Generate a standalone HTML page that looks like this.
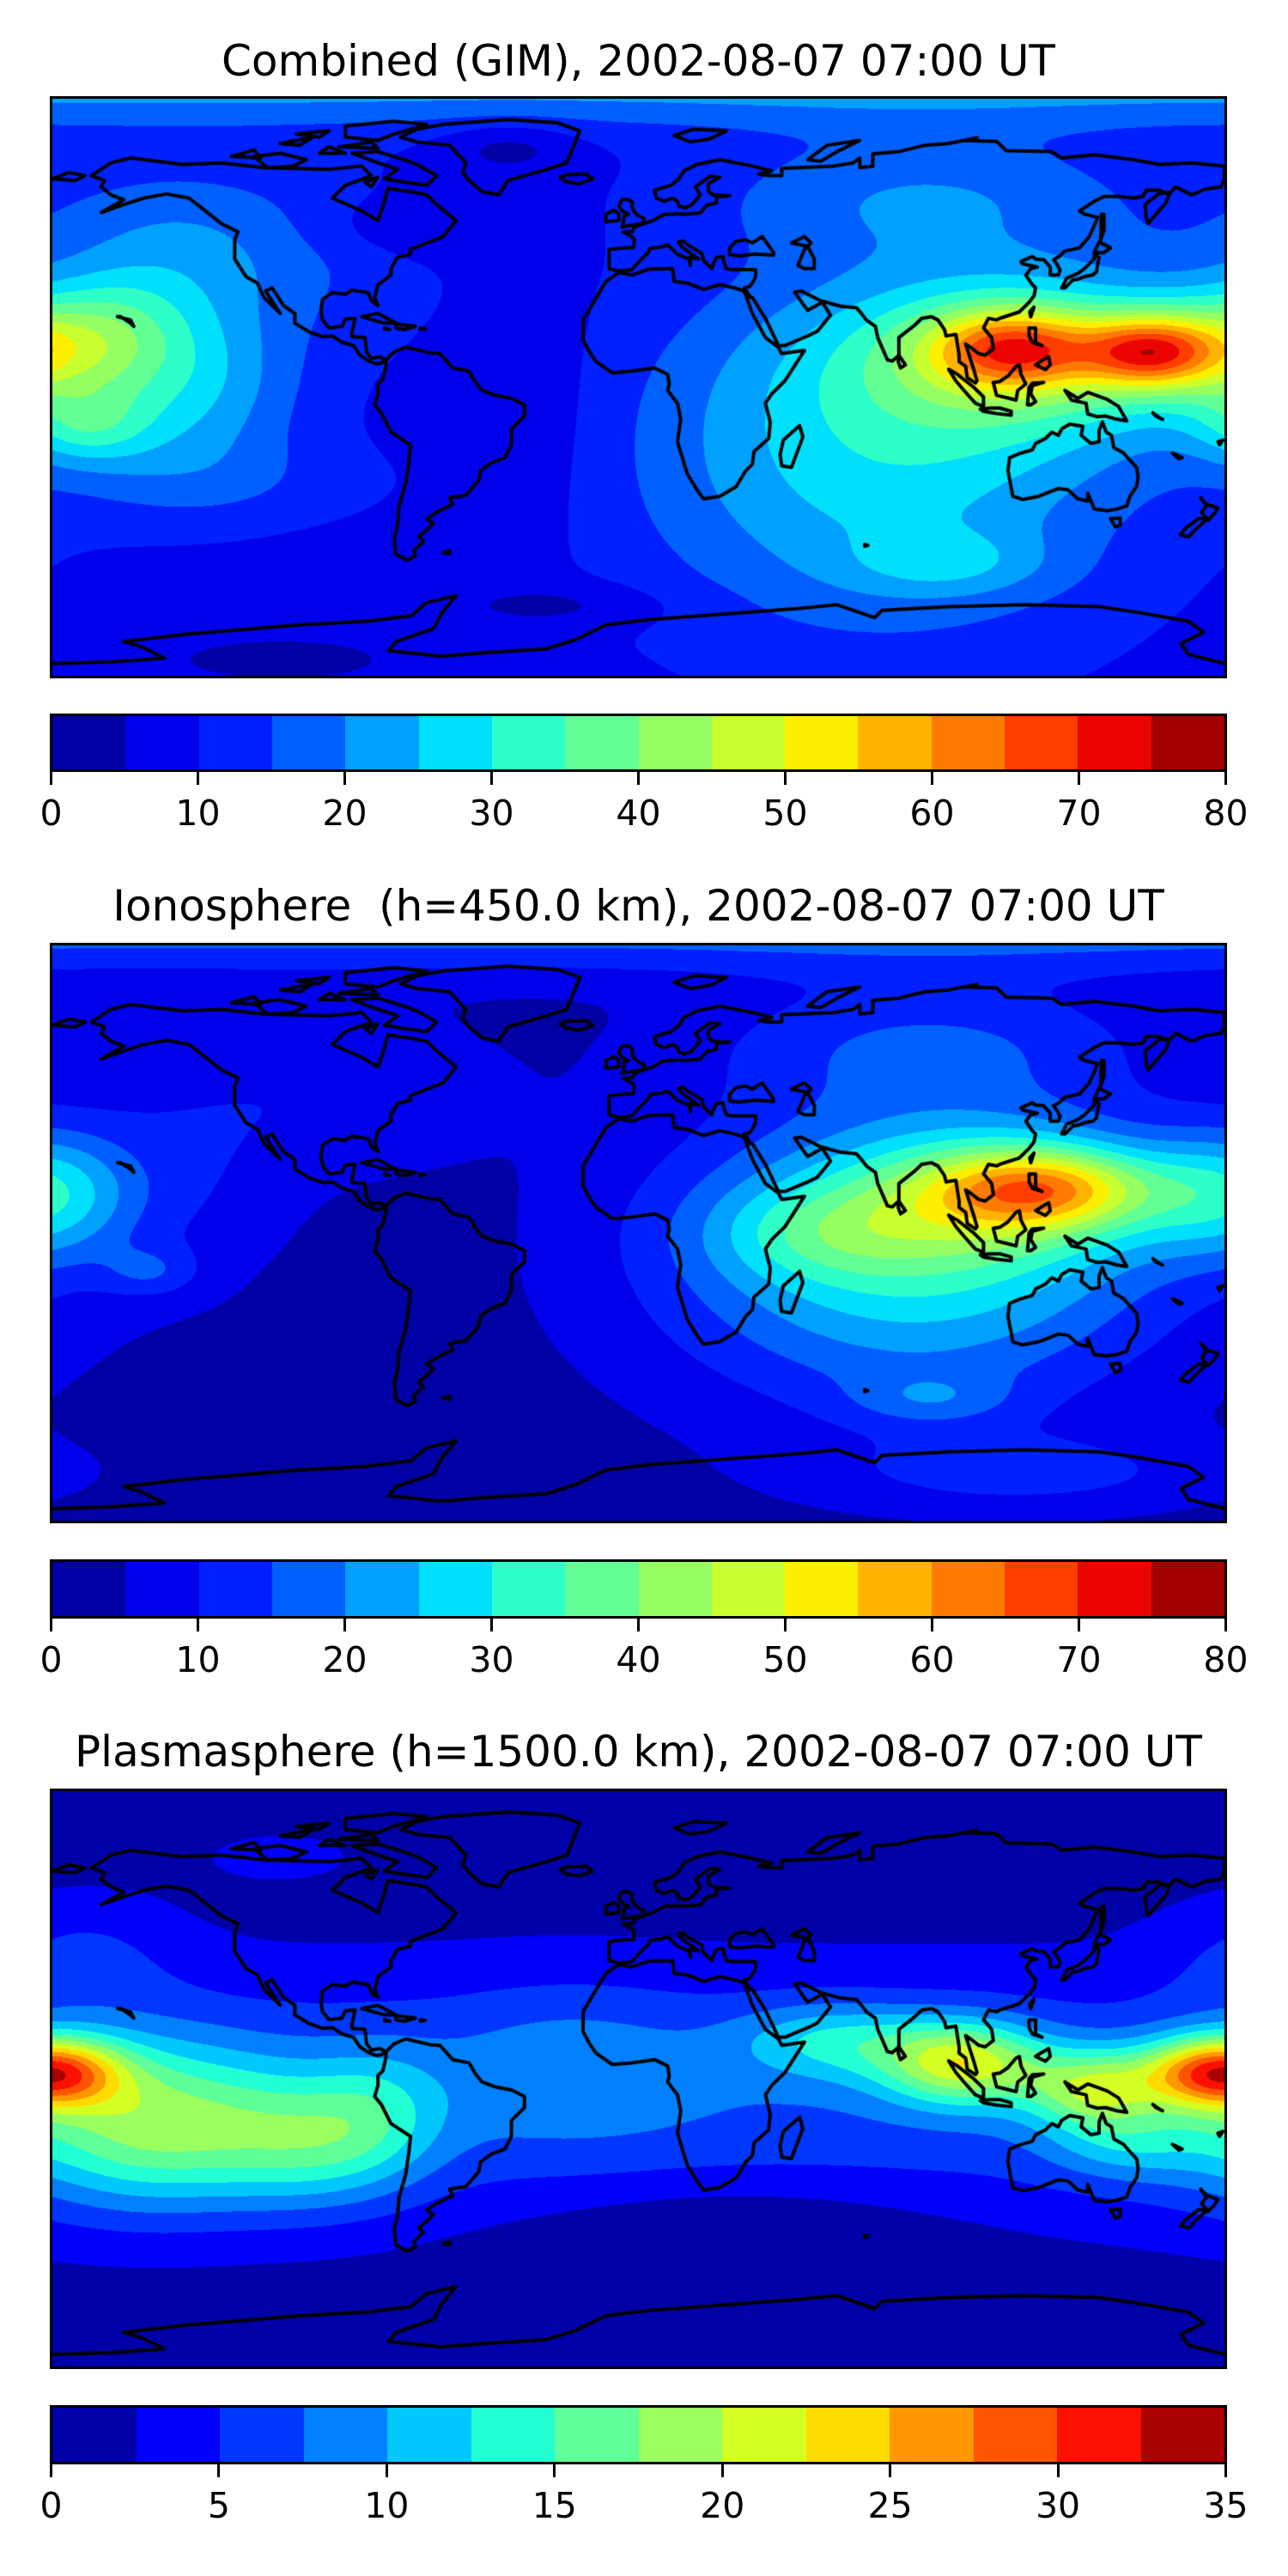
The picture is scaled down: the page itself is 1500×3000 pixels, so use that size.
<!DOCTYPE html>
<html><head><meta charset="utf-8">
<style>
body{margin:0;background:#fff;}
#root{position:relative;width:1500px;height:3000px;background:#fff;overflow:hidden;font-family:"DejaVu Sans","Liberation Sans",sans-serif;color:#000;}
.title{position:absolute;left:0;width:1487px;text-align:center;font-size:50px;line-height:54px;white-space:pre;}
.map{position:absolute;left:58px;width:1371px;border:3px solid #000;box-sizing:border-box;background:#0020ff;}
.map canvas{position:absolute;left:0;top:0;width:100%;height:100%;display:block;}
.cbar{position:absolute;left:58px;width:1371px;border:3px solid #000;box-sizing:border-box;display:flex;}
.cbar div{flex:1;height:100%;}
.tick{position:absolute;width:3px;height:16px;background:#000;}
.lab{position:absolute;font-size:41px;line-height:44px;width:120px;text-align:center;}
</style></head><body><div id="root">

<div class="title" style="top:44px">Combined (GIM), 2002-08-07 07:00 UT</div>
<div class="map" style="top:112px;height:678px"><canvas id="c1" width="1365" height="672"></canvas></div>
<div class="cbar" id="b1" style="top:831px;height:68px"></div>

<div class="title" style="top:1028px">Ionosphere  (h=450.0 km), 2002-08-07 07:00 UT</div>
<div class="map" style="top:1098px;height:676px"><canvas id="c2" width="1365" height="670"></canvas></div>
<div class="cbar" id="b2" style="top:1816px;height:69px"></div>

<div class="title" style="top:2013px">Plasmasphere (h=1500.0 km), 2002-08-07 07:00 UT</div>
<div class="map" style="top:2083px;height:676px"><canvas id="c3" width="1365" height="670"></canvas></div>
<div class="cbar" id="b3" style="top:2801px;height:69px"></div>

<div id="ticks"></div>
</div>
<script>
var C16=["#0000a4","#0000ec","#0020ff","#0060ff","#00a0ff","#00e0fc","#2effc8","#62ff95","#95ff62","#c8ff2e","#fcef00","#ffb400","#ff7a00","#ff3e00","#ec0400","#a40000"];
var C14=["#0000a9","#0000fc","#0037ff","#0080ff","#00c8ff","#23ffd4","#5eff99","#99ff5e","#d4ff23","#ffdb00","#ff9700","#ff5400","#fc1000","#a90000"];
function hex(h){return [parseInt(h.substr(1,2),16),parseInt(h.substr(3,2),16),parseInt(h.substr(5,2),16)];}
function bar(id,cols){var b=document.getElementById(id);cols.forEach(function(c){var d=document.createElement('div');d.style.background=c;b.appendChild(d);});}
bar('b1',C16);bar('b2',C16);bar('b3',C14);
var T=document.getElementById('ticks');
function ticks(top,labels){var n=labels.length-1;for(var i=0;i<=n;i++){var x=59.5+i*(1368/n);
var t=document.createElement('div');t.className='tick';t.style.left=(x-1.5)+'px';t.style.top=top+'px';T.appendChild(t);
var l=document.createElement('div');l.className='lab';l.style.left=(x-60)+'px';l.style.top=(top+27)+'px';l.textContent=labels[i];T.appendChild(l);}}
ticks(898,["0","10","20","30","40","50","60","70","80"]);
ticks(1884,["0","10","20","30","40","50","60","70","80"]);
ticks(2869,["0","5","10","15","20","25","30","35"]);

// gaussian: [lon,lat,amp,sx,sy]
var G1={base:8,g:[[115,12,30,25,12],[157,11,32,20,11],[125,10,25,60,25],[75,-20,20,75,55],[183,12,20,30,16],[-170,-12,14,20,12],[-140,0,16,35,28],[-160,25,6,25,15],[0,95,14,1e9,14],[90,60,10,70,20],[-75,50,-4,30,10],[-100,40,5,40,30],[-40,75,-6,20,8],[-25,-68,-5,35,7],[-110,-85,-5,40,8],[-145,45,10,40,25],[95,-55,8,30,10],[-130,-30,5,50,15],[-30,-10,-3,18,40]]};
var G2={base:3,g:[[125,14,26,32,12],[115,12,20,50,20],[85,-5,28,75,45],[55,0,10,35,15],[90,60,10,70,20],[0,95,14,1e9,14],[-180,12,18,25,20],[-150,-12,8,15,8],[-140,20,6,35,35],[-90,45,6,45,25],[90,-52,8,25,8],[120,-75,8,60,12]]};
var G3={base:1,band:[6,40,-5],g:[[178,2,22,22,11],[-150,-15,12,40,25],[-100,-20,8,30,20],[-80,-10,4,20,20],[60,12,7,30,12],[100,5,15,25,13],[140,-3,12,20,12],[150,-20,5,25,12],[-20,5,3,40,25],[30,-55,-4,60,20],[-110,70,2,30,10],[-170,40,3,30,20]]};
function render(id,F,step,cols){var cv=document.getElementById(id),W=cv.width,H=cv.height,ctx=cv.getContext('2d');
var img=ctx.createImageData(W,H),d=img.data,rgb=cols.map(hex),n=cols.length;
for(var y=0;y<H;y++){var lat=90-(y+0.5)/H*180;for(var x=0;x<W;x++){var lon=(x+0.5)/W*360-180;var v=F.base;
if(F.band){var bb=(lat-F.band[2])/F.band[1];v+=F.band[0]*Math.exp(-bb*bb);}
for(var k=0;k<F.g.length;k++){var g=F.g[k];var dl=((lon-g[0]+540)%360)-180;var a=dl/g[3],b=(lat-g[1])/g[4];v+=g[2]*Math.exp(-(a*a+b*b));}
var i=Math.floor(v/step);if(i<0)i=0;if(i>=n)i=n-1;var c=rgb[i],p=(y*W+x)*4;d[p]=c[0];d[p+1]=c[1];d[p+2]=c[2];d[p+3]=255;}}
ctx.putImageData(img,0,0);coast(ctx,W,H);}
var POLYS=[
[-168,66,-162,70,-156,71.5,-140,69.5,-128,70,-115,68.5,-95,68,-85,69,-82,66,-90,63,-94,59,-85,55,-80,52,-78,58,-77,62,-70,61,-65,60,-62,57,-56,52,-60,47,-65,45,-70,43,-70,41.5,-74,40.5,-76,37,-76,35,-80,32,-81,28,-80,25.5,-82,27,-83,29.5,-88,30.3,-90,29,-94,29.5,-97,27.5,-97.5,24,-97,21,-95,18.5,-91,19,-90,21.3,-87,21.5,-88,17,-88,15.8,-84,15.5,-83.5,11,-82,9,-79.5,9.5,-77.5,8.5,-79,7.5,-80.5,7.3,-83,8.3,-85.5,10,-87.5,13,-91,14,-94,16,-97,15.8,-101,17.2,-105.5,20,-105.5,23,-109,25.5,-112.5,31,-114.5,30,-110,23,-112,25,-115,28,-117,32.5,-120.5,34.5,-124,40,-124,46,-123,48.5,-128,51,-133,55,-138,59,-145,60.3,-152,59,-158,57,-165,54.5,-158,58.5,-162,60,-165,62.5,-164,64.5,-168,66],
[-73,78,-68,80.5,-60,82,-40,83.5,-25,82.5,-18,80,-20,75,-22,70,-28,68,-35,66,-40,64.5,-43,60,-48,61,-52,64.5,-54,67,-53,70,-58,75.5,-68,76.5,-73,78],
[-62,66,-65,63,-72,64,-78,65,-74,68,-80,70,-88,73,-80,73.5,-72,71,-68,69.5,-62,66],
[-118,72,-110,73,-102,71,-106,69,-114,68.5,-118,72],
[-80,77,-75,79,-65,82,-75,83,-90,81.5,-90,78,-80,77],
[-125,72,-118,74,-116,71.5,-125,72],[-92,75,-82,76.5,-80,74.5,-92,75],[-110,76,-100,78,-104,75.5,-110,76],
[-98,73,-95,75,-90,73,-98,73],[-105,79,-95,80,-98,78,-105,79],[-84,64,-80,65.5,-82,62.5,-84,64],
[-85,22,-80,23,-74.5,20,-78,20,-85,22],[-74.5,19.8,-68.5,19,-72,18,-74.5,18.5,-74.5,19.8],[-67,18.5,-65.5,18.3,-67,18,-67,18.5],[-78,18.5,-76.3,18,-78,18.2,-78,18.5],
[-77.5,8.5,-75,11,-71.5,12.5,-64,10.7,-61,10.5,-57,6,-52,5,-50,1.5,-48,-1,-44,-2.5,-39,-3.5,-35,-5.5,-35,-9,-39,-13,-39,-18,-41,-22,-45,-23.5,-48.5,-26,-49,-29,-53,-33.7,-58,-34.5,-57,-36.5,-62,-39,-65,-41,-63,-42.5,-65.5,-45,-67.5,-46.5,-66,-48,-69,-51,-68.5,-52.5,-71,-54,-74.5,-52,-75,-47,-74,-43,-73.5,-37,-71.5,-30,-70.5,-23,-70,-18,-76,-14,-79,-8,-81,-5.5,-80,-2,-80,1,-78.5,2.5,-77.5,7,-77.5,8.5],
[-6,35.8,-10,33,-17,21,-17,14.7,-15,11,-13,8,-8,4.5,-2,5,5,6,9,4,9.5,1,9,-1,12,-5,13,-10,12,-17,15,-27,18,-32,20,-34.8,25,-34,30,-31,33,-26,35,-24,35.5,-20,40,-16,40.5,-11,39,-5,41,-2,45,2,51,11.5,44,10.5,43,12.5,39,15.5,35,23,32.5,30,29.5,31,25,32,20,30.5,15,32.5,11,33,10.5,37,3,36.8,-2,35,-6,35.8],
[49.5,-12,50.5,-15.5,47,-25,44,-24.5,43.5,-21,44.5,-16.5,49.5,-12],
[-9,43,-9,39,-9,37,-6,36.2,-2,36.7,0,39,3,42,3.5,43.3,7,43.7,9,44.4,10.5,43,12,41.5,15.5,40,16,38,15.8,40.5,18.5,40,16,41.8,13.5,43.6,12.3,45.3,13.7,45.7,15,44.5,19.5,41.8,20,39.5,22.5,37,23,38.5,24,40.5,26,40.8,26.3,39,27,37,28.5,36.7,36,36.7,36,34.5,35,32.5,34,31.3,32.5,31,34.5,28,35,28,39,21.5,43,13,45,13,52,16,55,17.5,59,22.5,56.5,26.5,52,24,50.5,26,48,29.7,50,30,56,27,62,25.3,67,24.8,68.5,23,70,21,72.8,19,73.5,15.5,76.5,8.5,78,8.2,80,10,80,15.5,85,19.5,87,21.5,90,22,92,21,94,18,94.5,16,97.5,16.5,98.5,10,98.5,8,100.5,6.5,101,3,103.5,1.3,104,2,103,5.5,100.5,13.5,102,12.5,104.5,10.5,106.5,10,109,12,108.5,15.5,106,18.5,107.5,21.5,110,21,111,21.5,114,22.5,117,23.5,120,26.5,121.5,28.5,122,31,121,32,119,35,120.5,37,122.5,37.5,118,38.5,117.5,39.2,121,40.8,122,40,124.5,39.8,126.5,37.5,126.5,35,129,35,129.5,36.5,128.5,38.5,127.5,39.8,129.5,41,131,42.5,135.5,43.5,138.5,47,140.5,51.5,141,53,137,54,135.5,55,140,58,143,59.5,148,59.5,152,59,155,59.5,156,61.5,160,61.5,163,60,162,57.5,156.5,51,156,52.9,155.6,57,160,60.5,163.5,60.8,165,62.5,170,60,174,61.8,179,62.5,180,65,180,69,170,70,160,69.5,152,71,140,72.5,130,71.5,127,73.5,113,73.8,110,76.7,100,77,104,77.8,95,76,88,75.5,80,73.5,72,72.8,72,69,68,68.5,68,71.5,66,70,60,69,54,68.7,44,68.3,44,66,40,66,37,66.5,41,67.5,35,69,30,70,25,71,18,69.5,14,67.5,12.5,65,10,63,5,61.5,5.5,59,8,58,10.5,59,12,58,12.5,56.5,14.5,56,16.5,57,19,60,17.5,62.5,22,65.8,25,65.5,21.5,63.5,21.5,61,23,60,28,59.7,24,59.4,24,57.5,21,56.8,19,54.4,14,54,12,54.2,10.5,54,8.6,54,7,53.5,4.5,52,1.5,51,-1.5,49.7,-1.7,48.6,-4.7,48.4,-2,47,-1.2,46,-1.5,43.5,-4,43.5,-9,43],
[-5,50,1.5,51.2,1.7,52.7,0,53.5,-1.5,55,-2,56.5,-1.8,57.6,-3.2,58.6,-5,58.6,-6,56.5,-5,55,-3,54,-4.5,53.3,-4.5,51.7,-5,50],
[-6,52,-6,54,-7.5,55.2,-10,54,-10,51.6,-6,52],[-22,64,-24,65.5,-22,66.3,-16,66.5,-14,65,-18,63.5,-22,64],
[130,31,131.5,34,135,35.5,137,37,140,40,140,41.5,141.5,40.5,141,38,140.7,36,139.5,35,137,34.5,135,33.7,133.5,33.5,131,31,130,31],
[140,42,141.5,45.3,145,43.5,143,42,140,42],[142,46,143,49,143,54,142.2,54,142,46],
[120.5,22,121.5,25,120.2,23.5,120.5,22],[120,18.5,122,18.5,122,14,124,13,121,14,120,16,120,18.5],[122,7,125,5.5,126.5,7,126,9.5,123.5,8,122,7],
[109,1.5,110,-2.5,114,-3.5,116,-4,116.5,-1,119,1,117.5,4,117,7,116,6.5,113.5,3.5,111,1.8,109,1.5],
[95.3,5.6,98,4,103,0,106,-3,106,-6,103.5,-5,100,-1,97.5,2,95.3,5.6],[105,-6.8,108,-6.5,111,-6.5,114.5,-7.5,114.5,-8.7,110,-8.2,106,-7.5,105,-6.8],
[119.5,-5.5,120,0,121,1.3,124.5,1.5,121,0.5,120.5,-2,122,-4.5,120.5,-5.5,119.5,-5.5],
[131,-1,135,-3.5,138,-1.6,144,-3.8,147.5,-6,150,-10.5,147,-10,143.5,-9,141,-9.2,138,-8.3,137.5,-5,133,-4,131,-1],
[114,-22,113.5,-26,115,-34,118,-35,123,-34,129,-31.6,132,-32,135,-34.8,138,-35.5,138,-33,140,-38,144,-38.5,147,-38,150,-37,151,-34,153,-31,153.5,-28,153,-25,150.7,-22.5,149,-20.5,146,-18.8,145.3,-15,143.7,-14,142.5,-10.8,141.5,-13.5,141.5,-17,139,-17.5,136,-15,136.5,-12.2,132.5,-11.5,130,-13,129,-15,127,-14,125,-16,122,-17.5,121,-19.5,117,-20.7,114,-22],
[145,-41,148,-40.8,148,-43,146.5,-43.6,145,-41],[172.7,-34.5,174.5,-36.5,178,-37.7,177,-39.3,175,-41.5,173,-39,174.5,-37,172.7,-34.5],[174,-41,172,-41,168,-44,166.5,-46,169,-46.7,171,-44.5,174,-41.7,174,-41],
[80,10,82,7,80.5,6,79.8,8,80,10],
[47,45,51,47,53,45,51,43,50,40.5,49,38,51,37,54,37,54,40,53,42,52,44,47,45],
[28,41.3,28,43.5,30,45.5,33,46,35,45,38,47,41.5,42,41.5,41.2,36,41.6,31,41,28,41.3],
[52,71,58,75.5,68,77,61,73.5,56,70.5,52,71],[11,78.5,17,80.5,27,80,22,77.5,16,76.5,11,78.5],
[-180,65,-175,67,-170,66,-173,64.5,-180,65],[-60,-51.5,-58,-51,-58,-52,-60,-51.5],[69.5,-49,70.5,-49.3,69.5,-49.6,69.5,-49],
[158,-8,160,-9.5,161,-10,159,-9,158,-8],[165,-21,167,-22,166,-22.3,164,-20.5,165,-21],[178,-17,179.5,-16.5,178.5,-18,178,-17],
[-160,22,-159,22,-156,20,-155,19,-156,21,-160,22]
];
var ANT=[0,1535,80,1530,150,1520,120,1490,95,1475,180,1455,240,1445,330,1430,420,1420,480,1405,500,1370,540,1350,520,1400,510,1440,460,1475,450,1500,520,1515,580,1505,660,1495,700,1470,740,1430,800,1415,900,1400,1000,1385,1050,1375,1100,1410,1110,1390,1200,1380,1300,1375,1400,1380,1450,1395,1520,1420,1540,1450,1510,1480,1520,1510,1568,1535];
function coast(ctx,W,H){ctx.strokeStyle='#000';ctx.lineWidth=4;ctx.lineJoin='round';ctx.lineCap='round';
POLYS.forEach(function(p){ctx.beginPath();for(var i=0;i<p.length;i+=2){var x=(p[i]+180)/360*W,y=(90-p[i+1])/180*H;if(i==0)ctx.moveTo(x,y);else ctx.lineTo(x,y);}ctx.stroke();});
ctx.beginPath();for(var i=0;i<ANT.length;i+=2){var x=ANT[i]/1568*W,y=ANT[i+1]/1568*H;if(i==0)ctx.moveTo(x,y);else ctx.lineTo(x,y);}ctx.stroke();}
render('c1',G1,5,C16);render('c2',G2,5,C16);render('c3',G3,2.5,C14);
</script>
</body></html>
